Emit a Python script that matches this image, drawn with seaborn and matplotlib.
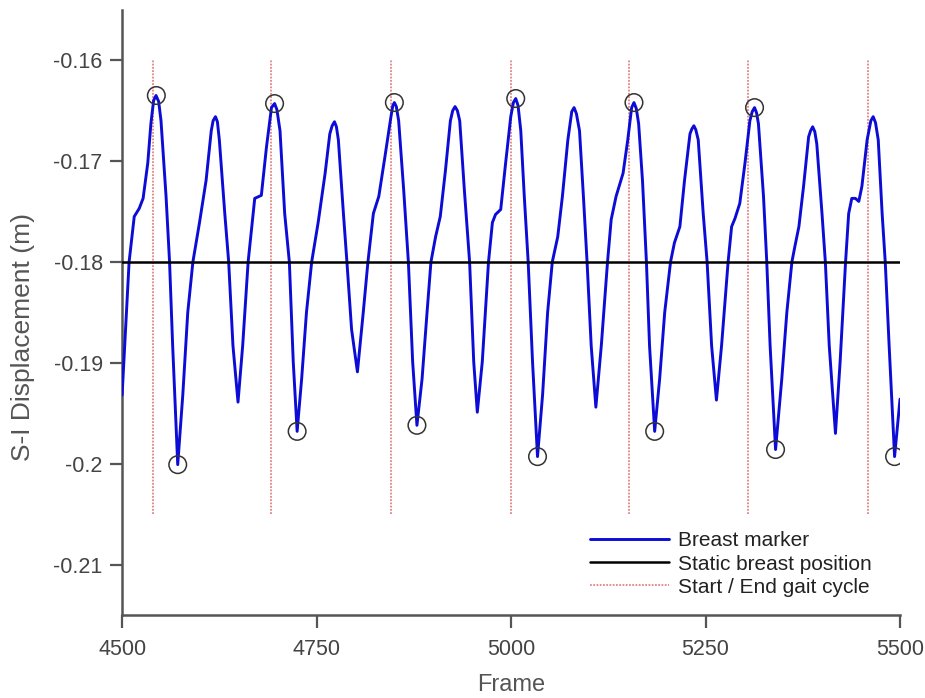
import numpy as np
import pandas as pd
import matplotlib
matplotlib.use("Agg")
import matplotlib.pyplot as plt
import seaborn as sns

# ---- data ----
frames = [4500, 4509, 4515.6, 4522, 4527, 4533, 4537, 4540.5, 4543.6, 4547, 4550, 4556.5, 4561,
          4565, 4571.5, 4578, 4584.4, 4591, 4599.5, 4608, 4614.6, 4617, 4620, 4622.5, 4625,
          4632, 4637, 4642.5, 4649, 4655, 4662, 4670.5, 4679, 4685.6, 4692, 4696, 4699, 4703,
          4709, 4715, 4720, 4725, 4730.8, 4737, 4743.7, 4752, 4761, 4767, 4770, 4773, 4775.5,
          4778, 4784.5, 4789, 4795, 4802.5, 4810, 4816, 4823, 4830, 4838, 4845.6, 4848, 4850,
          4852.5, 4855.5, 4862, 4868, 4873.5, 4879, 4885.6, 4892, 4897, 4903, 4909, 4915.7,
          4922, 4925, 4928, 4931, 4934, 4940, 4946.7, 4952, 4956.6, 4963, 4971, 4976, 4980,
          4986.7, 4993, 4999.6, 5003, 5006, 5009, 5012.5, 5017, 5022, 5027.6, 5034, 5040.5,
          5047, 5053, 5060, 5066, 5073, 5078, 5081, 5084, 5088, 5093, 5097.7, 5103, 5109, 5116,
          5124, 5128.7, 5135, 5144, 5150, 5155, 5158, 5161, 5164, 5169, 5174, 5178, 5184.6,
          5191, 5197.5, 5205, 5210, 5217, 5223, 5230, 5232.5, 5235, 5237.5, 5240.6, 5247, 5252,
          5257.8, 5264, 5270.6, 5279, 5283.5, 5287.8, 5294, 5300.7, 5307, 5310, 5313, 5315.5,
          5318, 5324.5, 5328.7, 5333, 5340, 5348, 5354.5, 5361, 5365, 5370, 5376, 5382.5, 5385,
          5387.7, 5390.5, 5393, 5399.7, 5404, 5409, 5417, 5423, 5430, 5434, 5438, 5442.6, 5447,
          5451, 5457.7, 5462.5, 5465.5, 5468.5, 5472, 5477, 5481, 5486, 5493, 5496.5, 5500]
breast = [-0.1932, -0.1800, -0.1755, -0.1747, -0.1737, -0.1702, -0.1663, -0.1640, -0.1635,
          -0.1641, -0.1660, -0.1735, -0.1800, -0.1883, -0.2001, -0.1932, -0.1850, -0.1800,
          -0.1761, -0.1719, -0.1670, -0.1660, -0.1656, -0.1661, -0.1679, -0.1752, -0.1800,
          -0.1883, -0.1939, -0.1883, -0.1800, -0.1737, -0.1734, -0.1686, -0.1647, -0.1643,
          -0.1649, -0.1670, -0.1752, -0.1800, -0.1899, -0.1968, -0.1916, -0.1850, -0.1800,
          -0.1761, -0.1712, -0.1673, -0.1665, -0.1661, -0.1666, -0.1679, -0.1752, -0.1800,
          -0.1867, -0.1909, -0.1850, -0.1800, -0.1752, -0.1735, -0.1695, -0.1656, -0.1645,
          -0.1642, -0.1646, -0.1660, -0.1729, -0.1800, -0.1899, -0.1962, -0.1916, -0.1850,
          -0.1800, -0.1775, -0.1755, -0.1709, -0.1660, -0.1650, -0.1646, -0.1650, -0.1660,
          -0.1729, -0.1800, -0.1899, -0.1949, -0.1899, -0.1800, -0.1761, -0.1753, -0.1748,
          -0.1702, -0.1656, -0.1642, -0.1638, -0.1645, -0.1670, -0.1735, -0.1800, -0.1899,
          -0.1993, -0.1932, -0.1850, -0.1800, -0.1775, -0.1735, -0.1679, -0.1651, -0.1647,
          -0.1653, -0.1670, -0.1735, -0.1800, -0.1883, -0.1944, -0.1883, -0.1800, -0.1758,
          -0.1735, -0.1712, -0.1679, -0.1647, -0.1642, -0.1648, -0.1663, -0.1720, -0.1800,
          -0.1883, -0.1968, -0.1916, -0.1850, -0.1800, -0.1781, -0.1765, -0.1719, -0.1673,
          -0.1668, -0.1665, -0.1669, -0.1679, -0.1752, -0.1800, -0.1883, -0.1937, -0.1883,
          -0.1800, -0.1765, -0.1757, -0.1742, -0.1702, -0.1660, -0.1651, -0.1647, -0.1652,
          -0.1663, -0.1735, -0.1800, -0.1883, -0.1986, -0.1916, -0.1850, -0.1800, -0.1784,
          -0.1765, -0.1725, -0.1676, -0.1670, -0.1666, -0.1671, -0.1683, -0.1752, -0.1800,
          -0.1883, -0.1970, -0.1899, -0.1800, -0.1752, -0.1737, -0.1737, -0.1740, -0.1725,
          -0.1679, -0.1660, -0.1656, -0.1662, -0.1679, -0.1752, -0.1800, -0.1883, -0.1993,
          -0.1965, -0.1936]
peak_frames = [4544, 4696, 4850, 5006, 5158, 5313]
peak_values = [-0.1635, -0.1643, -0.1642, -0.1638, -0.1642, -0.1647]
trough_frames = [4571.5, 4725, 4879, 5034, 5184.6, 5340, 5493]
trough_values = [-0.2001, -0.1968, -0.1962, -0.1993, -0.1968, -0.1986, -0.1993]
static_frames = [4500, 5500]
static_values = [-0.18, -0.18]
gait_frames = [4540, 4692, 4846, 5000, 5152, 5305, 5459]
gait_range = [-0.205, -0.16]
x_ticks = [4500, 4750, 5000, 5250, 5500]
y_ticks = [-0.21, -0.2, -0.19, -0.18, -0.17, -0.16]
y_tick_labels = ["-0.21", "-0.2", "-0.19", "-0.18", "-0.17", "-0.16"]

sns.set_style("ticks")
plt.rcParams['font.family'] = ['Liberation Sans', 'DejaVu Sans']

fig = plt.figure(figsize=(9.25, 6.98), dpi=100)
ax = fig.add_axes([0.132, 0.119, 0.841, 0.867])

df = pd.DataFrame({"Frame": frames, "Disp": breast})
sns.lineplot(data=df, x="Frame", y="Disp", ax=ax, color="#0c0cd6", linewidth=2.1,
             label="Breast marker", sort=False, zorder=3)
sns.lineplot(x=static_frames, y=static_values, ax=ax, color="black", linewidth=1.8,
             label="Static breast position", zorder=4)
ax.vlines(gait_frames, gait_range[0], gait_range[1], colors="#e38484",
          linestyles=(0, (1, 0.8)), linewidth=1.3, label="Start / End gait cycle", zorder=1)
sns.scatterplot(x=peak_frames + trough_frames, y=peak_values + trough_values, ax=ax,
                marker="o", s=160, facecolor="none", edgecolor="#333333", linewidth=1.1,
                zorder=5, legend=False)

ax.set_xlim(4500, 5500)
ax.set_ylim(-0.215, -0.155)
ax.set_xticks(x_ticks)
ax.set_xticklabels([str(t) for t in x_ticks])
ax.set_yticks(y_ticks)
ax.set_yticklabels(y_tick_labels)
ax.tick_params(axis="both", direction="out", length=9, width=1.6, color="#555555",
               labelsize=15.5, labelcolor="#444444")
ax.tick_params(axis="x", pad=8)
ax.tick_params(axis="y", pad=5)
for s in ["left", "bottom"]:
    ax.spines[s].set_color("#555555")
    ax.spines[s].set_linewidth(1.8)
for s in ["top", "right"]:
    ax.spines[s].set_visible(False)

ax.set_xlabel("Frame", fontsize=17, color="#555555")
ax.xaxis.set_label_coords(0.5, -0.097)
ax.set_ylabel("S-I Displacement (m)", fontsize=19, color="#555555")
ax.yaxis.set_label_coords(-0.112, 0.46)

leg = ax.legend(loc="center left", bbox_to_anchor=(590 / 925, 1 - 564 / 698),
                bbox_transform=fig.transFigure, frameon=False, borderpad=0,
                borderaxespad=0, fontsize=15, handlelength=3.8, handletextpad=0.4,
                labelspacing=0.2, labelcolor="#222222")

fig.savefig("out.png", dpi=100)
